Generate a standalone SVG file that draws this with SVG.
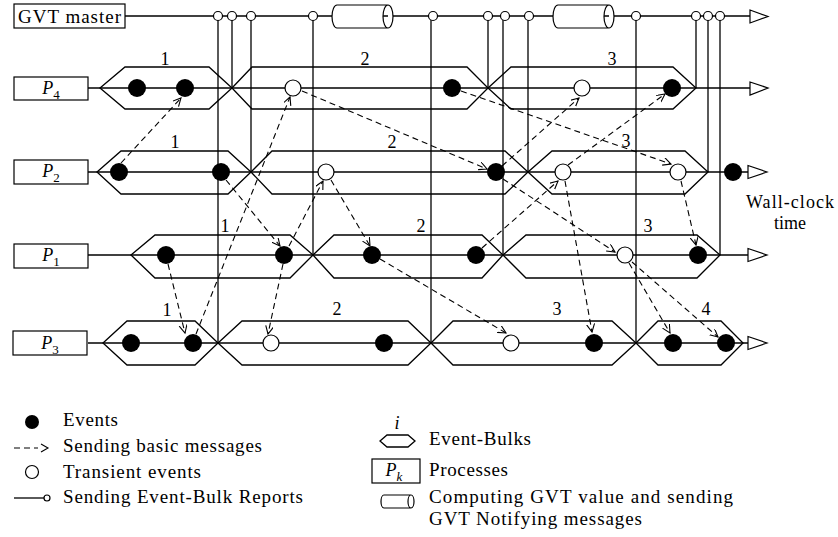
<svg xmlns="http://www.w3.org/2000/svg" width="838" height="537" viewBox="0 0 838 537">
<style>
text{font-family:"Liberation Serif","DejaVu Serif",serif;font-size:18px;fill:#000}
.lg{font-size:19px}
.ln{stroke:#000;stroke-width:1.3;fill:none}
.box{stroke:#000;stroke-width:1.2;fill:#fff}
.hex{stroke:#000;stroke-width:1.3;fill:none}
.ev{fill:#000}
.tr{fill:#fff;stroke:#000;stroke-width:1.2}
.rc{fill:#fff;stroke:#000;stroke-width:1.2}
.msg{stroke:#000;stroke-width:1.1;fill:none;stroke-dasharray:6 4;marker-end:url(#ah)}
.tip{fill:#fff;stroke:#000;stroke-width:1.2}
.lbl{text-anchor:middle}
</style>
<defs>
<marker id="ah" markerWidth="12" markerHeight="12" refX="8" refY="4" orient="auto" markerUnits="userSpaceOnUse">
<path d="M0,0 L8,4 L0,8" fill="none" stroke="#000" stroke-width="1.1" stroke-dasharray="none"/>
</marker>
<path id="cyl" d="M5,0 H56 A5,11.5 0 0 1 56,23 H5 A5,11.5 0 0 1 5,0 Z M56,0 A5,11.5 0 0 0 56,23"/>
</defs>

<!-- GVT master -->
<g id="gvt-master">
<line class="ln" x1="125" y1="16" x2="750" y2="16"/>
<rect class="box" x="14" y="4" width="111" height="24"/>
<text x="69.5" y="23" class="lbl lg" textLength="103" lengthAdjust="spacing">GVT master</text>
<use href="#cyl" x="332" y="5" class="box"/>
<use href="#cyl" x="553" y="5" class="box"/>
<polygon class="tip" points="750,10 768,16.5 750,23"/>
</g>

<!-- Process P4 -->
<g id="P4">
<line class="ln" x1="88" y1="88" x2="750" y2="88"/>
<rect class="box" x="14" y="77" width="74" height="23"/>
<text x="51" y="94" class="lbl"><tspan font-style="italic">P</tspan><tspan font-size="13" dy="5">4</tspan></text>
<polygon class="tip" points="750,82 768,88 750,95"/>
<g id="P4-bulk1"><polygon class="hex" points="100,88 125,67 209,67 232,88 209,109 125,109"/><text x="165" y="65" class="lbl">1</text></g>
<g id="P4-bulk2"><polygon class="hex" points="232,88 252,67 467,67 488,88 467,109 252,109"/><text x="365" y="65" class="lbl">2</text></g>
<g id="P4-bulk3"><polygon class="hex" points="488,88 511,67 673,67 696,88 673,109 511,109"/><text x="612" y="65" class="lbl">3</text></g>
<circle class="ev" cx="137" cy="88" r="9"/>
<circle class="ev" cx="185" cy="88" r="9"/>
<circle class="tr" cx="293" cy="88" r="8"/>
<circle class="ev" cx="452" cy="88" r="9"/>
<circle class="tr" cx="582" cy="88" r="8"/>
<circle class="ev" cx="672" cy="88" r="9"/>
</g>

<!-- Process P2 -->
<g id="P2">
<line class="ln" x1="88" y1="172" x2="750" y2="172"/>
<rect class="box" x="14" y="160" width="74" height="24"/>
<text x="51" y="177" class="lbl"><tspan font-style="italic">P</tspan><tspan font-size="13" dy="5">2</tspan></text>
<polygon class="tip" points="748,165.5 767,172 748,178.5"/>
<g id="P2-bulk1"><polygon class="hex" points="97,172 121,151 228,151 251,172 228,194 121,194"/><text x="175" y="148" class="lbl">1</text></g>
<g id="P2-bulk2"><polygon class="hex" points="251,172 272,151 505,151 528,172 505,194 272,194"/><text x="392" y="148" class="lbl">2</text></g>
<g id="P2-bulk3"><polygon class="hex" points="528,172 552,151 685,151 708,172 685,194 552,194"/><text x="626" y="147" class="lbl">3</text></g>
<circle class="ev" cx="119" cy="172" r="9"/>
<circle class="ev" cx="221" cy="172" r="9"/>
<circle class="tr" cx="326" cy="172" r="8"/>
<circle class="ev" cx="496" cy="172" r="9"/>
<circle class="tr" cx="563" cy="172" r="8"/>
<circle class="tr" cx="678" cy="172" r="8"/>
<circle class="ev" cx="733" cy="172" r="9"/>
</g>

<!-- Process P1 -->
<g id="P1">
<line class="ln" x1="88" y1="255" x2="750" y2="255"/>
<rect class="box" x="14" y="244" width="74" height="24"/>
<text x="51" y="261" class="lbl"><tspan font-style="italic">P</tspan><tspan font-size="13" dy="5">1</tspan></text>
<polygon class="tip" points="748,248.5 767,255 748,261.5"/>
<g id="P1-bulk1"><polygon class="hex" points="131,255 155,235 290,235 313,255 290,278 155,278"/><text x="225" y="232" class="lbl">1</text></g>
<g id="P1-bulk2"><polygon class="hex" points="313,255 334,235 482,235 503,255 482,278 334,278"/><text x="421" y="232" class="lbl">2</text></g>
<g id="P1-bulk3"><polygon class="hex" points="503,255 526,235 697,235 720,255 697,278 526,278"/><text x="648" y="232" class="lbl">3</text></g>
<circle class="ev" cx="166" cy="255" r="9"/>
<circle class="ev" cx="284" cy="255" r="9"/>
<circle class="ev" cx="372" cy="255" r="9"/>
<circle class="ev" cx="476" cy="255" r="9"/>
<circle class="tr" cx="625" cy="255" r="8"/>
<circle class="ev" cx="698" cy="255" r="9"/>
</g>

<!-- Process P3 -->
<g id="P3">
<line class="ln" x1="88" y1="343" x2="750" y2="343"/>
<rect class="box" x="13" y="331" width="74" height="24"/>
<text x="50" y="349" class="lbl"><tspan font-style="italic">P</tspan><tspan font-size="13" dy="5">3</tspan></text>
<polygon class="tip" points="748,336.5 767,343 748,349.5"/>
<g id="P3-bulk1"><polygon class="hex" points="103,343 127,321 195,321 218,343 195,365 127,365"/><text x="167" y="316" class="lbl">1</text></g>
<g id="P3-bulk2"><polygon class="hex" points="218,343 242,321 408,321 431,343 408,365 242,365"/><text x="337" y="315" class="lbl">2</text></g>
<g id="P3-bulk3"><polygon class="hex" points="431,343 453,321 612,321 636,343 612,365 453,365"/><text x="557" y="315" class="lbl">3</text></g>
<g id="P3-bulk4"><polygon class="hex" points="636,343 658,321 721,321 743,343 721,365 658,365"/><text x="706" y="315" class="lbl">4</text></g>
<circle class="ev" cx="131" cy="343" r="9"/>
<circle class="ev" cx="193" cy="343" r="9"/>
<circle class="tr" cx="271" cy="343" r="8"/>
<circle class="ev" cx="384" cy="343" r="9"/>
<circle class="tr" cx="511" cy="343" r="8"/>
<circle class="ev" cx="594" cy="343" r="9"/>
<circle class="ev" cx="673" cy="343" r="9"/>
<circle class="ev" cx="726" cy="343" r="9"/>
</g>

<!-- Connectors -->
<g id="connectors">
<!-- Event-Bulk reports -->
<g id="reports">
<line class="ln" x1="218" y1="20" x2="218" y2="343"/>
<line class="ln" x1="232" y1="20" x2="232" y2="88"/>
<line class="ln" x1="251" y1="20" x2="251" y2="172"/>
<line class="ln" x1="313" y1="20" x2="313" y2="255"/>
<line class="ln" x1="431" y1="20" x2="431" y2="343"/>
<line class="ln" x1="488" y1="20" x2="488" y2="88"/>
<line class="ln" x1="503" y1="20" x2="503" y2="255"/>
<line class="ln" x1="528" y1="20" x2="528" y2="172"/>
<line class="ln" x1="636" y1="20" x2="636" y2="343"/>
<line class="ln" x1="696" y1="20" x2="696" y2="88"/>
<line class="ln" x1="708" y1="20" x2="708" y2="172"/>
<line class="ln" x1="720" y1="20" x2="720" y2="255"/>
<circle class="rc" cx="218" cy="16" r="4.5"/>
<circle class="rc" cx="232" cy="16" r="4.5"/>
<circle class="rc" cx="251" cy="16" r="4.5"/>
<circle class="rc" cx="313" cy="16" r="4.5"/>
<circle class="rc" cx="433" cy="16" r="4.5"/>
<circle class="rc" cx="488" cy="16" r="4.5"/>
<circle class="rc" cx="505" cy="16" r="4.5"/>
<circle class="rc" cx="529" cy="16" r="4.5"/>
<circle class="rc" cx="636" cy="16" r="4.5"/>
<circle class="rc" cx="696" cy="16" r="4.5"/>
<circle class="rc" cx="708" cy="16" r="4.5"/>
<circle class="rc" cx="720" cy="16" r="4.5"/>
</g>
<!-- Basic messages -->
<g id="messages">
<line class="msg" x1="121" y1="163" x2="181" y2="98"/>
<line class="msg" x1="168" y1="264" x2="185" y2="333"/>
<line class="msg" x1="196" y1="334" x2="290" y2="97"/>
<line class="msg" x1="226" y1="180" x2="280" y2="246"/>
<line class="msg" x1="289" y1="246" x2="323" y2="181"/>
<line class="msg" x1="331" y1="180" x2="370" y2="246"/>
<line class="msg" x1="283" y1="264" x2="268" y2="334"/>
<line class="msg" x1="302" y1="91" x2="487" y2="169"/>
<line class="msg" x1="380" y1="259" x2="506" y2="333"/>
<line class="msg" x1="461" y1="91" x2="671" y2="164"/>
<line class="msg" x1="502" y1="166" x2="579" y2="98"/>
<line class="msg" x1="503" y1="179" x2="615" y2="252"/>
<line class="msg" x1="568" y1="165" x2="665" y2="94"/>
<line class="msg" x1="482" y1="248" x2="558" y2="181"/>
<line class="msg" x1="565" y1="181" x2="592" y2="332"/>
<line class="msg" x1="681" y1="181" x2="696" y2="245"/>
<line class="msg" x1="629" y1="263" x2="670" y2="333"/>
<line class="msg" x1="632" y1="262" x2="718" y2="337"/>
</g>
</g>

<text x="790" y="208" class="lbl" textLength="88" lengthAdjust="spacing">Wall-clock</text>
<text x="790" y="229" class="lbl">time</text>

<!-- Legend -->
<g id="legend">
<circle class="ev" cx="32" cy="422" r="7"/>
<text x="63" y="426" class="lg" textLength="55" lengthAdjust="spacing">Events</text>
<line x1="14" y1="448" x2="38" y2="448" stroke="#000" stroke-width="1.1" stroke-dasharray="6 4"/>
<path d="M41,444 L48,448 L41,452" fill="none" stroke="#000" stroke-width="1.1"/>
<text x="63" y="452" class="lg" textLength="199" lengthAdjust="spacing">Sending basic messages</text>
<circle class="tr" cx="32" cy="472" r="6.5"/>
<text x="63" y="478" class="lg" textLength="138" lengthAdjust="spacing">Transient events</text>
<line class="ln" x1="14" y1="498" x2="44" y2="498"/>
<circle class="rc" cx="47" cy="498" r="3"/>
<text x="63" y="503" class="lg" textLength="240" lengthAdjust="spacing">Sending Event-Bulk Reports</text>

<text x="397" y="429" class="lbl" font-style="italic">i</text>
<polygon class="hex" points="380,441 387,435 408,435 415,441 408,447 387,447"/>
<text x="429" y="445" class="lg" textLength="102" lengthAdjust="spacing">Event-Bulks</text>
<rect class="box" x="372" y="459" width="48" height="24"/>
<text x="394" y="476" class="lbl"><tspan font-style="italic">P</tspan><tspan font-size="13" dy="5" font-style="italic">k</tspan></text>
<text x="429" y="476" class="lg" textLength="79" lengthAdjust="spacing">Processes</text>
<path class="box" d="M384,495 H411 A3,6.5 0 0 1 411,508 H384 A3,6.5 0 0 1 384,495 Z M411,495 A3,6.5 0 0 0 411,508"/>
<text x="429" y="503" class="lg" textLength="304" lengthAdjust="spacing">Computing GVT value and sending</text>
<text x="429" y="525" class="lg" textLength="213" lengthAdjust="spacing">GVT Notifying messages</text>
</g>
</svg>
